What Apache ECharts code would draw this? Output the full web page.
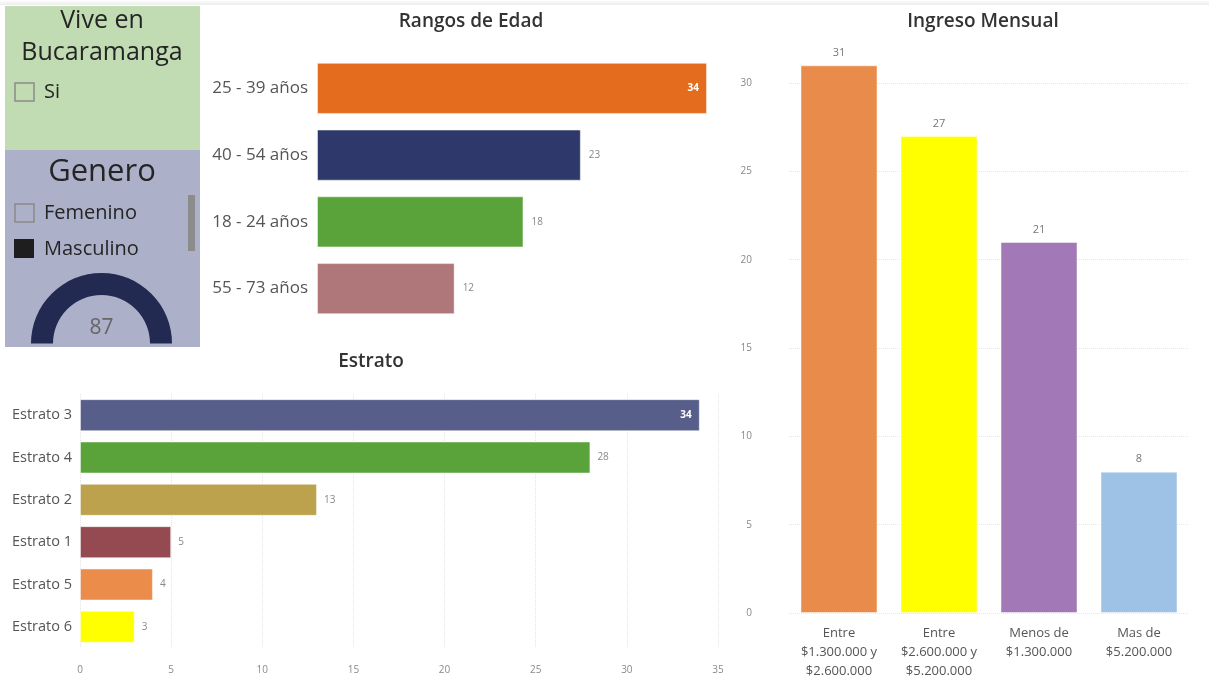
<!DOCTYPE html>
<html><head><meta charset="utf-8">
<script src="https://cdn.jsdelivr.net/npm/echarts@6/dist/echarts.min.js"></script>
<style>html,body{margin:0;padding:0;background:#fff}#c{width:1209px;height:681px}</style>
</head><body><div id="c"></div>
<script>
// ---- data ----
const ageCats = ['25 - 39 años', '40 - 54 años', '18 - 24 años', '55 - 73 años'];
const ageVals = [34, 23, 18, 12];
const ageColors = ['#e46c1e', '#2e386b', '#5aa33a', '#b0777a'];

const estratoCats = ['Estrato 3', 'Estrato 4', 'Estrato 2', 'Estrato 1', 'Estrato 5', 'Estrato 6'];
const estratoVals = [34, 28, 13, 5, 4, 3];
const estratoColors = ['#565e89', '#59a33a', '#bca24c', '#944a50', '#ec8c4a', '#ffff00'];

const ingresoCats = ['Entre\n$1.300.000 y\n$2.600.000', 'Entre\n$2.600.000 y\n$5.200.000', 'Menos de\n$1.300.000', 'Mas de\n$5.200.000'];
const ingresoVals = [31, 27, 21, 8];
const ingresoColors = ['#e98b4a', '#ffff00', '#a279b6', '#9dc2e5'];

const generoValue = [87];

// ---- chart ----
const F = "'Open Sans', 'Noto Sans', sans-serif";

function barData(vals, colors) {
  const mx = Math.max(...vals);
  return vals.map((v, i) => ({
    value: v,
    itemStyle: { color: colors[i] },
    label: v === mx ? { position: 'insideRight', color: '#fff', fontWeight: 'bold', distance: 8 } : undefined
  }));
}

const chart = echarts.init(document.getElementById('c'), null, { renderer: 'canvas' });
chart.setOption({
  animation: false,
  backgroundColor: '#fff',
  title: [
    { text: 'Rangos de Edad', left: 466, top: 7, textAlign: 'center', textStyle: { fontFamily: F, fontSize: 19, fontWeight: 600, color: '#333' } },
    { text: 'Estrato', left: 366, top: 347, textAlign: 'center', textStyle: { fontFamily: F, fontSize: 19, fontWeight: 600, color: '#333' } },
    { text: 'Ingreso Mensual', left: 978, top: 7, textAlign: 'center', textStyle: { fontFamily: F, fontSize: 19, fontWeight: 600, color: '#333' } }
  ],
  graphic: [
    { type: 'rect', shape: { x: 0, y: 0, width: 1209, height: 5 }, style: { fill: new echarts.graphic.LinearGradient(0, 0, 0, 1, [{ offset: 0, color: '#ffffff' }, { offset: 1, color: '#ececec' }]) }, z: 0 },
    { type: 'rect', shape: { x: 5, y: 6, width: 195, height: 144 }, style: { fill: '#c1dcb3' }, z: 0 },
    { type: 'rect', shape: { x: 5, y: 150, width: 195, height: 197 }, style: { fill: '#acb0c9' }, z: 0 },
    { type: 'text', x: 102, y: 21, style: { text: 'Vive en', font: "25px 'Open Sans'", fill: '#252525', textAlign: 'center', textVerticalAlign: 'middle' }, z: 5 },
    { type: 'text', x: 102, y: 53, style: { text: 'Bucaramanga', font: "25px 'Open Sans'", fill: '#252525', textAlign: 'center', textVerticalAlign: 'middle' }, z: 5 },
    { type: 'rect', shape: { x: 15, y: 83, width: 19, height: 18 }, style: { fill: 'rgba(0,0,0,0)', stroke: '#8a8a8a', lineWidth: 1.5 }, z: 5 },
    { type: 'text', x: 44, y: 92, style: { text: 'Si', font: "20px 'Open Sans'", fill: '#252525', textVerticalAlign: 'middle' }, z: 5 },
    { type: 'text', x: 102, y: 172, style: { text: 'Genero', font: "31px 'Open Sans'", fill: '#252525', textAlign: 'center', textVerticalAlign: 'middle' }, z: 5 },
    { type: 'rect', shape: { x: 15, y: 204, width: 19, height: 18 }, style: { fill: 'rgba(0,0,0,0)', stroke: '#8a8a8a', lineWidth: 1.5 }, z: 5 },
    { type: 'text', x: 44, y: 213, style: { text: 'Femenino', font: "20px 'Open Sans'", fill: '#252525', textVerticalAlign: 'middle' }, z: 5 },
    { type: 'rect', shape: { x: 14, y: 239, width: 20, height: 19 }, style: { fill: '#1e1e1e' }, z: 5 },
    { type: 'text', x: 44, y: 249, style: { text: 'Masculino', font: "20px 'Open Sans'", fill: '#252525', textVerticalAlign: 'middle' }, z: 5 },
    { type: 'rect', shape: { x: 188, y: 195, width: 7, height: 56 }, style: { fill: '#8c8c8c' }, z: 5 }
  ],
  grid: [
    { left: 317, top: 55, width: 390, height: 267, containLabel: false },
    { left: 80, top: 394, width: 638, height: 254, containLabel: false },
    { left: 789, top: 83, width: 400, height: 531, containLabel: false }
  ],
  xAxis: [
    { gridIndex: 0, type: 'value', min: 0, max: 34, show: false },
    { gridIndex: 1, type: 'value', min: 0, max: 35, interval: 5,
      axisLine: { show: false }, axisTick: { show: false },
      axisLabel: { fontFamily: F, fontSize: 10, color: '#8a8a8a', margin: 17 },
      splitLine: { show: true, lineStyle: { type: 'dotted', color: '#e4e4e4' } } },
    { gridIndex: 2, type: 'category', data: ingresoCats,
      axisLine: { show: false }, axisTick: { show: false },
      axisLabel: { fontFamily: F, fontSize: 13, color: '#555', lineHeight: 19, margin: 11, interval: 0 } }
  ],
  yAxis: [
    { gridIndex: 0, type: 'category', data: ageCats, inverse: true,
      axisLine: { show: false }, axisTick: { show: false },
      axisLabel: { fontFamily: F, fontSize: 17, color: '#555', margin: 9 } },
    { gridIndex: 1, type: 'category', data: estratoCats, inverse: true,
      axisLine: { show: false }, axisTick: { show: false },
      axisLabel: { fontFamily: F, fontSize: 14.5, color: '#555', margin: 8 } },
    { gridIndex: 2, type: 'value', min: 0, max: 30, interval: 5,
      axisLine: { show: false }, axisTick: { show: false },
      axisLabel: { fontFamily: F, fontSize: 10, color: '#888', margin: 37 },
      splitLine: { show: true, lineStyle: { type: 'dotted', color: '#e8e8e8' } } }
  ],
  series: [
    { type: 'bar', xAxisIndex: 0, yAxisIndex: 0, barCategoryGap: '23.5%',
      data: barData(ageVals, ageColors),
      itemStyle: { borderColor: 'rgba(255,255,255,0.45)', borderWidth: 1 },
      label: { show: true, position: 'right', distance: 8, fontFamily: F, fontSize: 10, color: '#888' } },
    { type: 'bar', xAxisIndex: 1, yAxisIndex: 1, barCategoryGap: '24.5%',
      data: barData(estratoVals, estratoColors),
      itemStyle: { borderColor: 'rgba(255,255,255,0.45)', borderWidth: 1 },
      label: { show: true, position: 'right', distance: 7, fontFamily: F, fontSize: 10, color: '#888' } },
    { type: 'bar', xAxisIndex: 2, yAxisIndex: 2, barCategoryGap: '23%', clip: false,
      data: ingresoVals.map((v, i) => ({ value: v, itemStyle: { color: ingresoColors[i] } })),
      itemStyle: { borderColor: 'rgba(255,255,255,0.45)', borderWidth: 1 },
      label: { show: true, position: 'top', distance: 7, fontFamily: F, fontSize: 11, color: '#777' } },
    { type: 'gauge', center: [101.5, 343.5], radius: 70.5, startAngle: 180, endAngle: 0,
      min: 0, max: generoValue[0], z: 6,
      axisLine: { lineStyle: { width: 22, color: [[1, '#222a52']] } },
      pointer: { show: false }, progress: { show: false },
      splitLine: { show: false }, axisTick: { show: false }, axisLabel: { show: false },
      title: { show: false },
      detail: { show: true, offsetCenter: [0, -15], formatter: '{value}', fontFamily: F, fontSize: 21, fontWeight: 'normal', color: '#666' },
      data: [{ value: generoValue[0] }] }
  ]
});
</script>
</body></html>
